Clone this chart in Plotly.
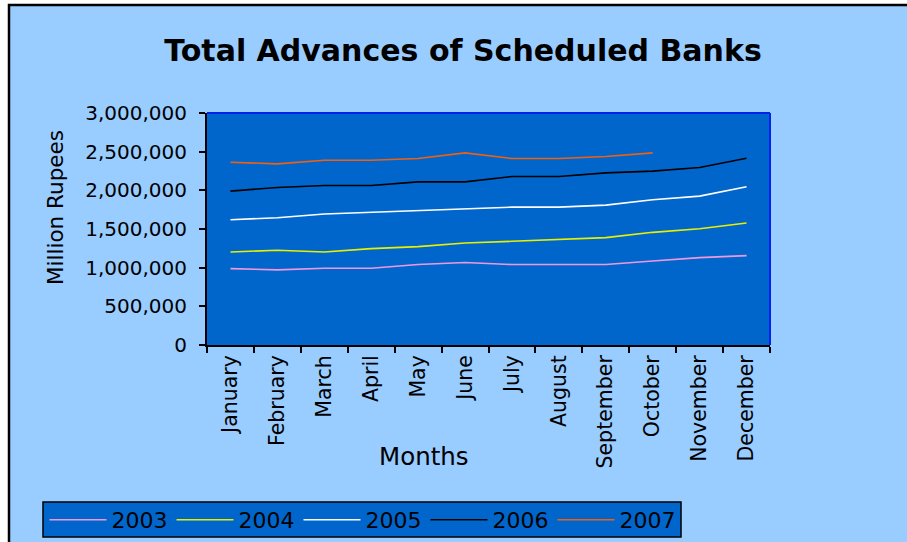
import plotly.graph_objects as go

months = ["January", "February", "March", "April", "May", "June", "July",
          "August", "September", "October", "November", "December"]
years = ["2003", "2004", "2005", "2006", "2007"]

adv_2003 = [988000, 971000, 993000, 993000, 1040000, 1066000, 1040000, 1040000, 1040000, 1087000, 1130000, 1156000]
adv_2004 = [1203000, 1225000, 1203000, 1246000, 1272000, 1319000, 1341000, 1367000, 1388000, 1457000, 1504000, 1577000]
adv_2005 = [1620000, 1646000, 1693000, 1715000, 1736000, 1762000, 1783000, 1783000, 1809000, 1878000, 1925000, 2046000]
adv_2006 = [1990000, 2037000, 2063000, 2063000, 2110000, 2110000, 2179000, 2179000, 2226000, 2248000, 2295000, 2415000]
adv_2007 = [2364000, 2342000, 2389000, 2389000, 2411000, 2484000, 2411000, 2411000, 2437000, 2484000]

series = [adv_2003, adv_2004, adv_2005, adv_2006, adv_2007]
colors = ["#EE99DD", "#E8F000", "#FFFFFF", "#000000", "#F06010"]

W, H = 907, 542
L, R, T, B = 207, 137, 113, 197
PW, PH = W - L - R, H - T - B


def px_x(p):
    return (p - L) / PW


def px_y(p):
    return (H - B - p) / PH


FONT = "DejaVu Sans"

fig = go.Figure()
for name, vals, col in zip(years, series, colors):
    fig.add_trace(go.Scatter(
        x=months[:len(vals)], y=vals, name=name, mode="lines",
        line=dict(color=col, width=1.6),
    ))

fig.update_layout(
    width=W, height=H, autosize=False,
    margin=dict(l=L, r=R, t=T, b=B, pad=0, autoexpand=False),
    paper_bgcolor="#FFFFFF",
    plot_bgcolor="#0066CC",
    title=dict(text="<b>Total Advances of Scheduled Banks</b>",
               font=dict(family=FONT, size=30, color="#000000"),
               x=463 / W, xref="container", xanchor="center",
               y=1 - 50 / H, yref="container", yanchor="middle"),
    showlegend=True,
    legend=dict(orientation="h", xref="paper", yref="paper",
                x=px_x(44.5), y=px_y(499), xanchor="left", yanchor="top",
                bgcolor="rgba(0,0,0,0)", borderwidth=0,
                font=dict(family=FONT, size=22, color="#000000"),
                entrywidth=55, entrywidthmode="pixels",
                itemwidth=57, tracegroupgap=0),
    xaxis=dict(type="category", tickson="boundaries", ticks="outside",
               ticklen=6, tickcolor="#000000", tickwidth=1.5,
               showline=True, linecolor="#000000", linewidth=2,
               showgrid=False, tickangle=-90,
               tickfont=dict(family=FONT, size=20.5, color="#000000"),
               range=[-0.5, 11.5]),
    yaxis=dict(range=[0, 3000000], dtick=500000, tickformat=",d",
               ticks="outside", ticklen=6, tickcolor="#000000", tickwidth=1.5,
               showline=True, linecolor="#000000", linewidth=2,
               showgrid=False, zeroline=False, ticklabelstandoff=8,
               tickfont=dict(family=FONT, size=20, color="#000000")),
    annotations=[
        dict(text="Million Rupees", x=px_x(55), y=px_y(208), xref="paper", yref="paper",
             textangle=-90, showarrow=False, xanchor="center", yanchor="middle",
             font=dict(family=FONT, size=21.5, color="#000000")),
        dict(text="Months", x=px_x(424), y=px_y(456), xref="paper", yref="paper",
             showarrow=False, xanchor="center", yanchor="middle",
             font=dict(family=FONT, size=24.5, color="#000000")),
    ],
    shapes=[
        # chart area with black frame
        dict(type="rect", xref="paper", yref="paper", layer="below",
             x0=px_x(9), x1=px_x(915), y0=px_y(550), y1=px_y(5),
             fillcolor="#99CCFF", line=dict(color="#000000", width=2.5)),
        # plot area background
        dict(type="rect", xref="paper", yref="paper", layer="below",
             x0=0, x1=1, y0=0, y1=1, fillcolor="#0066CC", line=dict(width=0)),
        # plot area top/right border
        dict(type="line", xref="paper", yref="paper", layer="above",
             x0=0, x1=1, y0=1, y1=1, line=dict(color="#0022EE", width=2)),
        dict(type="line", xref="paper", yref="paper", layer="above",
             x0=1, x1=1, y0=0, y1=1, line=dict(color="#0022EE", width=2)),
        # legend box
        dict(type="rect", xref="paper", yref="paper", layer="above",
             x0=px_x(43), x1=px_x(681), y0=px_y(537), y1=px_y(502),
             fillcolor="#0066CC", line=dict(color="#000000", width=1.5)),
    ],
)

fig.write_html("out.html",
               config={"responsive": False, "displayModeBar": False},
               post_script="document.body.style.margin='0px';document.body.style.overflow='hidden';")
